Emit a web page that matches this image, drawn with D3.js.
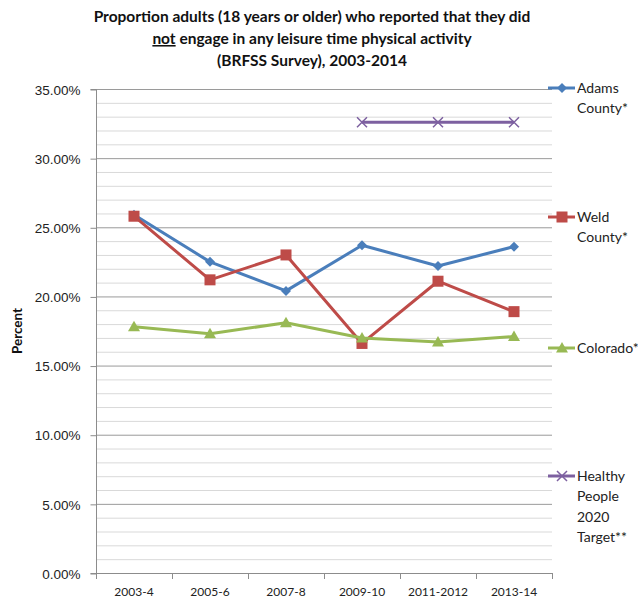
<!DOCTYPE html>
<html>
<head>
<meta charset="utf-8">
<script src="https://cdn.jsdelivr.net/npm/d3@7/dist/d3.min.js"></script>
<style>
  html, body { margin: 0; padding: 0; background: #fff; }
  svg { display: block; font-family: Lato, "Open Sans", sans-serif; }
</style>
</head>
<body>
<svg id="chart" width="638" height="598"></svg>
<script>
// Survey periods
const periods = ["2003-4", "2005-6", "2007-8", "2009-10", "2011-2012", "2013-14"];

// Percent of adults reporting no leisure-time physical activity
const adamsCounty = [25.9, 22.5, 20.4, 23.7, 22.2, 23.6];
const weldCounty = [25.8, 21.2, 23.0, 16.6, 21.1, 18.9];
const colorado = [17.8, 17.3, 18.1, 17.0, 16.7, 17.1];
const healthyPeopleTarget = [null, null, null, 32.6, 32.6, 32.6];

const seriesNames = ["Adams County*", "Weld County*", "Colorado*", "Healthy People 2020 Target**"];
const legendLines = [["Adams", "County*"], ["Weld", "County*"], ["Colorado*"], ["Healthy", "People", "2020", "Target**"]];
const yTicks = [0, 5, 10, 15, 20, 25, 30, 35];

const series = [
  { name: seriesNames[0], values: adamsCounty, color: "#4A7EBB", marker: "diamond" },
  { name: seriesNames[1], values: weldCounty, color: "#BE4B48", marker: "square" },
  { name: seriesNames[2], values: colorado, color: "#98B954", marker: "triangle" },
  { name: seriesNames[3], values: healthyPeopleTarget, color: "#7D60A0", marker: "cross" }
];

const svg = d3.select("#chart");
const margin = { left: 96, right: 552, top: 89, bottom: 573 };

const x = d3.scaleBand().domain(periods).range([margin.left, margin.right]);
const y = d3.scaleLinear().domain([0, 35]).range([margin.bottom, margin.top]);

// Gridlines: minor every 1%, major every 5%
const minor = d3.range(1, 35).filter(v => v % 5 !== 0);
svg.append("g").selectAll("line").data(minor).join("line")
  .attr("x1", margin.left).attr("x2", margin.right)
  .attr("y1", d => y(d) + 0.5).attr("y2", d => y(d) + 0.5)
  .attr("stroke", "#d9d9d9").attr("stroke-width", 1);
svg.append("g").selectAll("line").data(yTicks.filter(v => v > 0)).join("line")
  .attr("x1", margin.left).attr("x2", margin.right)
  .attr("y1", d => y(d) + 0.5).attr("y2", d => y(d) + 0.5)
  .attr("stroke", "#9a9a9a").attr("stroke-width", 1);

// Y axis
const yAxis = d3.axisLeft(y).tickValues(yTicks).tickSize(6).tickPadding(10)
  .tickFormat(d => d.toFixed(2) + "%");
const gy = svg.append("g").attr("transform", `translate(${margin.left + 0.5},0.5)`).call(yAxis);
gy.select(".domain").attr("stroke", "#8c8c8c").attr("d", `M-6,${y(0)}H0V${y(35)}H-6`);
gy.selectAll(".tick line").attr("stroke", "#8c8c8c");
gy.selectAll(".tick text").attr("fill", "#222").attr("font-size", 13.5).attr("dy", "0.35em").attr("y", 0);

// X axis
const bounds = d3.range(periods.length + 1).map(i => margin.left + i * x.bandwidth());
svg.append("line")
  .attr("x1", margin.left).attr("x2", margin.right)
  .attr("y1", y(0) + 0.5).attr("y2", y(0) + 0.5)
  .attr("stroke", "#8c8c8c");
svg.append("g").selectAll("line").data(bounds).join("line")
  .attr("x1", d => d + 0.5).attr("x2", d => d + 0.5)
  .attr("y1", y(0)).attr("y2", y(0) + 6)
  .attr("stroke", "#8c8c8c");
svg.append("g").selectAll("text").data(periods).join("text")
  .attr("x", d => x(d) + x.bandwidth() / 2)
  .attr("y", y(0) + 23)
  .attr("text-anchor", "middle")
  .attr("font-size", 12)
  .attr("fill", "#222")
  .text(d => d);

// Y axis title
svg.append("text")
  .attr("transform", `translate(22,${(margin.top + margin.bottom) / 2}) rotate(-90)`)
  .attr("text-anchor", "middle")
  .attr("font-size", 13.5).attr("font-weight", "bold").attr("fill", "#111")
  .text("Percent");

// Chart title
const title = svg.append("g").attr("font-size", 15.5).attr("font-weight", "bold").attr("fill", "#111")
  .attr("text-anchor", "middle");
title.append("text").attr("x", 312).attr("y", 22)
  .text("Proportion adults (18 years or older) who reported that they did");
const t2 = title.append("text").attr("x", 312).attr("y", 44);
t2.append("tspan").attr("text-decoration", "underline").text("not");
t2.append("tspan").text(" engage in any leisure time physical activity");
title.append("text").attr("x", 312).attr("y", 66).text("(BRFSS Survey), 2003-2014");

// Marker drawing
function drawMarker(g, type, color) {
  if (type === "diamond") {
    g.append("path").attr("d", "M0,-5L5,0L0,5L-5,0Z").attr("fill", color);
  } else if (type === "square") {
    g.append("rect").attr("x", -5.5).attr("y", -5.5).attr("width", 11).attr("height", 11).attr("fill", color);
  } else if (type === "triangle") {
    g.append("path").attr("d", "M0,-6L6,4.5L-6,4.5Z").attr("fill", color);
  } else if (type === "cross") {
    g.append("path").attr("d", "M-5,-5L5,5M-5,5L5,-5").attr("stroke", color).attr("stroke-width", 1.5).attr("fill", "none");
  }
}

const line = d3.line()
  .defined(d => d.v !== null)
  .x(d => x(d.p) + x.bandwidth() / 2)
  .y(d => y(d.v));

series.forEach(s => {
  const pts = periods.map((p, i) => ({ p, v: s.values[i] }));
  svg.append("path").datum(pts)
    .attr("d", line)
    .attr("fill", "none")
    .attr("stroke", s.color)
    .attr("stroke-width", 3)
    .attr("stroke-linejoin", "round");
  pts.filter(d => d.v !== null).forEach(d => {
    const g = svg.append("g").attr("transform", `translate(${x(d.p) + x.bandwidth() / 2},${y(d.v)})`);
    drawMarker(g, s.marker, s.color);
  });
});

// Legend
const legendY = [88, 217, 348, 476];
series.forEach((s, i) => {
  const g = svg.append("g").attr("transform", `translate(548,${legendY[i]})`);
  g.append("line").attr("x1", 0).attr("x2", 27).attr("y1", 0).attr("y2", 0)
    .attr("stroke", s.color).attr("stroke-width", 3);
  const m = g.append("g").attr("transform", "translate(14,0)");
  drawMarker(m, s.marker, s.color);
  legendLines[i].forEach((t, j) => {
    g.append("text").attr("x", 29).attr("y", j * 20.5).attr("dy", "0.35em")
      .attr("font-size", 14).attr("fill", "#222").text(t);
  });
});
</script>
</body>
</html>
